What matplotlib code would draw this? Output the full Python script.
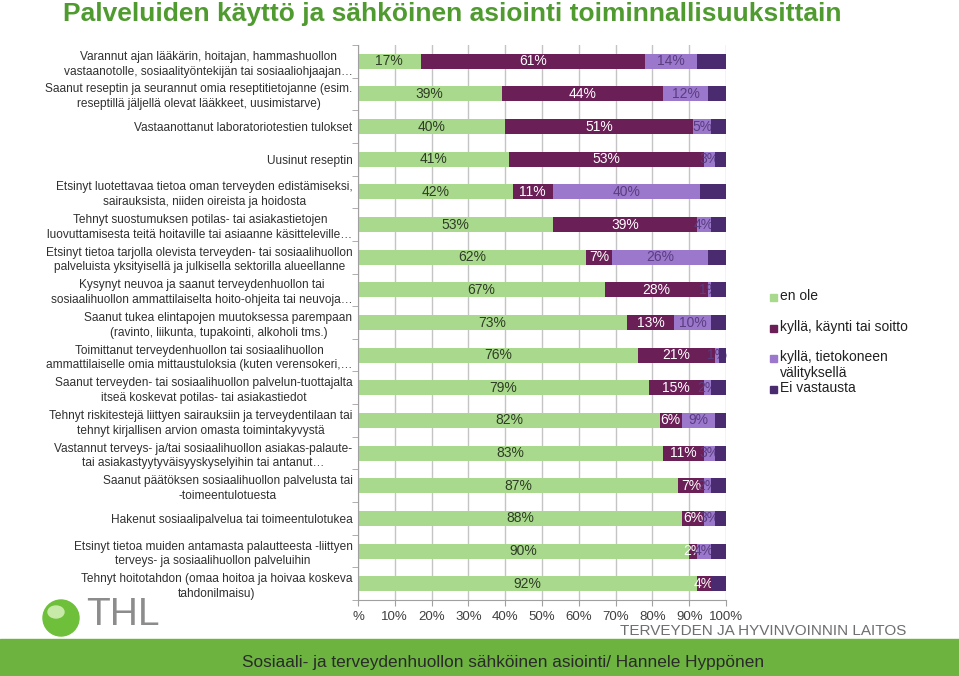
import numpy as np
import matplotlib.pyplot as plt
from matplotlib.patches import Rectangle, Ellipse

plt.rcParams['font.family'] = ['Liberation Sans', 'DejaVu Sans']

# Data
kysymykset = [
    "Varannut ajan lääkärin, hoitajan, hammashuollon\nvastaanotolle, sosiaalityöntekijän tai sosiaaliohjaajan…",
    "Saanut reseptin ja seurannut omia reseptitietojanne (esim.\nreseptillä jäljellä olevat lääkkeet, uusimistarve)",
    "Vastaanottanut laboratoriotestien tulokset",
    "Uusinut reseptin",
    "Etsinyt luotettavaa tietoa oman terveyden edistämiseksi,\nsairauksista, niiden oireista ja hoidosta",
    "Tehnyt suostumuksen potilas- tai asiakastietojen\nluovuttamisesta teitä hoitaville tai asiaanne käsitteleville…",
    "Etsinyt tietoa tarjolla olevista terveyden- tai sosiaalihuollon\npalveluista yksityisellä ja julkisella sektorilla alueellanne",
    "Kysynyt neuvoa ja saanut terveydenhuollon tai\nsosiaalihuollon ammattilaiselta hoito-ohjeita tai neuvoja…",
    "Saanut tukea elintapojen muutoksessa parempaan\n(ravinto, liikunta, tupakointi, alkoholi tms.)",
    "Toimittanut terveydenhuollon tai sosiaalihuollon\nammattilaiselle omia mittaustuloksia (kuten verensokeri,…",
    "Saanut terveyden- tai sosiaalihuollon palvelun-tuottajalta\nitseä koskevat potilas- tai asiakastiedot",
    "Tehnyt riskitestejä liittyen sairauksiin ja terveydentilaan tai\ntehnyt kirjallisen arvion omasta toimintakyvystä",
    "Vastannut terveys- ja/tai sosiaalihuollon asiakas-palaute-\ntai asiakastyytyväisyyskyselyihin tai antanut…",
    "Saanut päätöksen sosiaalihuollon palvelusta tai\n-toimeentulotuesta",
    "Hakenut sosiaalipalvelua tai toimeentulotukea",
    "Etsinyt tietoa muiden antamasta palautteesta -liittyen\nterveys- ja sosiaalihuollon palveluihin",
    "Tehnyt hoitotahdon (omaa hoitoa ja hoivaa koskeva\ntahdonilmaisu)",
]

en_ole = [17, 39, 40, 41, 42, 53, 62, 67, 73, 76, 79, 82, 83, 87, 88, 90, 92]
kaynti = [61, 44, 51, 53, 11, 39, 7, 28, 13, 21, 15, 6, 11, 7, 6, 2, 4]
tietokone = [14, 12, 5, 3, 40, 4, 26, 1, 10, 1, 2, 9, 3, 2, 3, 4, 0]
ei_vastausta = [8, 5, 4, 3, 7, 4, 5, 4, 4, 2, 4, 3, 3, 4, 3, 4, 4]

sarjat = ["en ole", "kyllä, käynti tai soitto", "kyllä, tietokoneen\nvälityksellä", "Ei vastausta"]
arvot = [en_ole, kaynti, tietokone, ei_vastausta]
varit = ['#a9d98c', '#6a1f57', '#9b78cc', '#4a2b70']
tekstivarit = ['#2e3d26', 'white', '#5a3d80', None]

xtick_labels = ['%', '10%', '20%', '30%', '40%', '50%', '60%', '70%', '80%', '90%', '100%']

fig = plt.figure(figsize=(9.59, 6.76), dpi=100)
ax = fig.add_axes([358 / 959, 1 - 600 / 676, 368 / 959, 555 / 676])

y = np.arange(len(kysymykset))
left = np.zeros(len(kysymykset))
for i, (nimi, vals) in enumerate(zip(sarjat, arvot)):
    vals = np.array(vals, dtype=float)
    ax.barh(y, vals, left=left, height=0.46, color=varit[i], zorder=2 + 2 * i)
    if tekstivarit[i] is not None:
        for yy, l, v in zip(y, left, vals):
            if v > 0:
                ax.text(l + v / 2, yy, f"{int(v)}%", ha='center', va='center',
                        fontsize=10, color=tekstivarit[i], zorder=3 + 2 * i)
    left += vals

ax.set_xlim(0, 100)
ax.set_ylim(len(kysymykset) - 0.5, -0.5)
ax.set_xticks(np.arange(0, 101, 10))
ax.set_xticklabels(xtick_labels, fontsize=9.5, color='#404040')
ax.grid(axis='x', color='#c4c4c4', linewidth=1, zorder=0)
ax.set_axisbelow(True)

ax.set_yticks(y)
ax.set_yticklabels(kysymykset, fontsize=8.6, color='#303030', multialignment='center',
                   linespacing=1.3)
ax.tick_params(axis='y', length=0, pad=4)
ax.set_yticks(np.arange(-0.5, len(kysymykset), 1), minor=True)
ax.tick_params(axis='y', which='minor', length=4, color='#a0a0a0')
ax.tick_params(axis='x', length=4, color='#a0a0a0', pad=4)

for s in ['top', 'right']:
    ax.spines[s].set_visible(False)
for s in ['left', 'bottom']:
    ax.spines[s].set_color('#a0a0a0')

# Legend
leg_y = [297, 328, 358, 389]
for nimi, vari, yy in zip(sarjat, varit, leg_y):
    fig.patches.append(Rectangle((770 / 959, 1 - (yy + 4) / 676), 7 / 959, 7 / 676,
                                 transform=fig.transFigure, color=vari))
    fig.text(780 / 959, 1 - (yy - 8) / 676, nimi, fontsize=10, color='#202020',
             va='top', ha='left', linespacing=1.15)

# Title
fig.text(452 / 959, 1 - 14 / 676, "Palveluiden käyttö ja sähköinen asiointi toiminnallisuuksittain",
         fontsize=19, fontweight='bold', color='#4f9b2f', ha='center', va='center')

# Footer band
fig.patches.append(Rectangle((0, 0), 1, 37 / 676, transform=fig.transFigure, color='#6cb33f'))
fig.text(503 / 959, 1 - 662 / 676, "Sosiaali- ja terveydenhuollon sähköinen asiointi/ Hannele Hyppönen",
         fontsize=12.4, color='#2a2a2a', ha='center', va='center')

# THL logo
fig.patches.append(Ellipse((61 / 959, 1 - 618 / 676), 36 / 959, 36 / 676,
                           transform=fig.transFigure, color='#6ebf3a'))
fig.patches.append(Ellipse((56 / 959, 1 - 612 / 676), 16 / 959, 12 / 676,
                           transform=fig.transFigure, color='#c8eaa8'))
fig.text(86 / 959, 1 - 615 / 676, "THL", fontsize=28, color='#8c8c8c', ha='left', va='center')
fig.text(906 / 959, 1 - 631 / 676, "TERVEYDEN JA HYVINVOINNIN LAITOS", fontsize=11,
         color='#6e6e6e', ha='right', va='center')

fig.savefig('out.png', dpi=100)
